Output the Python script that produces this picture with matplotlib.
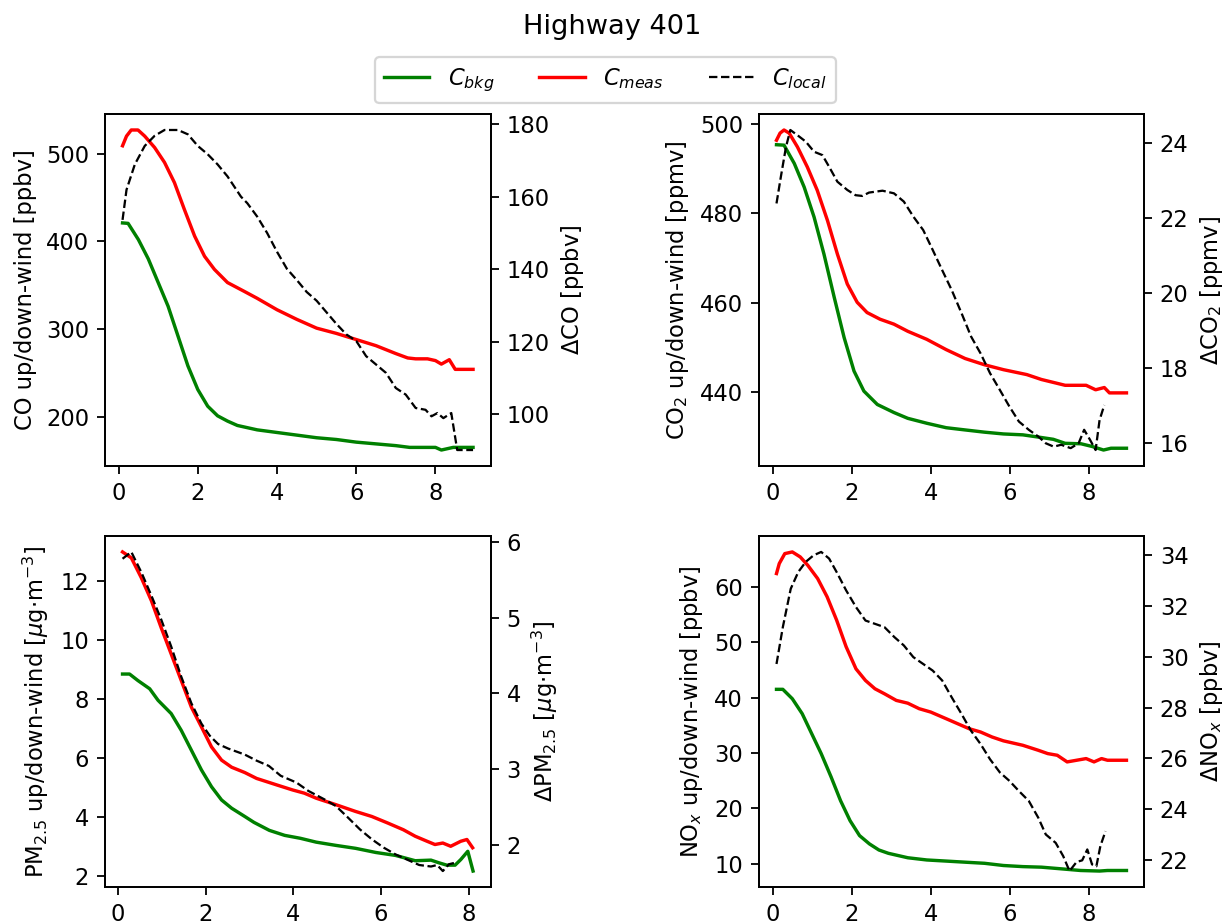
import matplotlib.pyplot as plt

# distance downwind [km] and concentrations
co_x_bkg = [0.1, 0.24, 0.5, 0.75, 1.0, 1.25, 1.5, 1.75, 2.0, 2.25, 2.5, 2.75, 3.0, 3.5, 4.0, 4.5,
            5.0, 5.5, 6.0, 6.5, 7.0, 7.35, 8.0, 8.15, 8.45, 8.95]
co_bkg = [421, 420.5, 402, 380, 353, 326, 292, 258, 231, 212, 201, 195, 190, 185, 182, 179,
          176, 174, 171, 169, 167, 165, 165, 162, 165, 165]
co_x_meas = [0.1, 0.2, 0.32, 0.49, 0.66, 0.91, 1.16, 1.41, 1.66, 1.92, 2.17, 2.42, 2.75, 3.17,
             3.5, 4.0, 4.5, 5.0, 5.5, 6.0, 6.5, 7.0, 7.3, 7.5, 7.8, 8.0, 8.15, 8.35, 8.5, 8.95]
co_meas = [509, 520, 527, 527, 520, 507, 490, 467, 436.5, 406, 383, 368, 353, 343, 335, 322,
           311, 301, 295, 288, 281, 272, 267, 266, 266, 264, 260, 265, 254, 254]
co_x_local = [0.1, 0.2, 0.41, 0.66, 0.91, 1.16, 1.5, 1.75, 2.0, 2.25, 2.5, 2.75, 3.09, 3.25,
              3.5, 3.75, 4.0, 4.25, 4.5, 4.75, 5.0, 5.25, 5.5, 5.75, 6.0, 6.25, 6.5, 6.75,
              7.0, 7.25, 7.5, 7.75, 7.9, 8.05, 8.2, 8.4, 8.55, 8.95]
co_local = [153.6, 161.9, 168.9, 174, 176.8, 178.4, 178.4, 177.2, 174, 171.7, 168.9, 165.6,
            160, 158.2, 154.5, 150, 144.8, 140.1, 137, 133.7, 131.3, 128.1, 124.9, 122, 120.2,
            116, 113.7, 111.4, 107.2, 105.4, 101.7, 101.2, 99.4, 100.3, 98.9, 100.3, 90.1, 90.1]

co2_x_bkg = [0.1, 0.29, 0.55, 0.8, 1.05, 1.3, 1.56, 1.81, 2.06, 2.31, 2.65, 3.07, 3.42, 3.9,
             4.39, 4.87, 5.36, 5.84, 6.33, 6.8, 7.1, 7.4, 7.8, 8.08, 8.37, 8.56, 8.95]
co2_bkg = [495.4, 495.3, 491.2, 485.9, 479.2, 470.9, 461.2, 452.2, 444.7, 440.2, 437.2, 435.4,
           434.1, 433.0, 432.0, 431.5, 431.0, 430.6, 430.4, 429.8, 429.4, 428.5, 428.4, 427.8,
           427.0, 427.4, 427.4]
co2_x_meas = [0.1, 0.19, 0.29, 0.42, 0.63, 0.88, 1.13, 1.39, 1.64, 1.89, 2.14, 2.39, 2.72,
              3.07, 3.42, 3.9, 4.39, 4.87, 5.36, 5.84, 6.43, 6.8, 7.4, 7.93, 8.17, 8.39, 8.52,
              8.95]
co2_meas = [496.4, 498.0, 498.7, 498.0, 494.9, 490.4, 485.2, 478.4, 470.9, 464.2, 460.1, 457.8,
            456.3, 455.2, 453.6, 451.8, 449.5, 447.5, 446.1, 445.0, 443.9, 442.8, 441.5, 441.5,
            440.5, 441.0, 439.8, 439.8]
co2_x_local = [0.1, 0.21, 0.34, 0.45, 0.63, 0.84, 1.05, 1.26, 1.43, 1.64, 1.89, 2.1, 2.27, 2.44,
               2.78, 3.07, 3.32, 3.56, 3.81, 4.05, 4.29, 4.53, 4.78, 5.02, 5.26, 5.5, 5.75,
               5.99, 6.23, 6.48, 6.72, 6.91, 7.11, 7.3, 7.54, 7.74, 7.88, 8.03, 8.17, 8.27,
               8.39]
co2_local = [22.38, 23.09, 23.89, 24.34, 24.2, 24.03, 23.76, 23.67, 23.36, 22.96, 22.74, 22.6,
             22.58, 22.67, 22.72, 22.65, 22.43, 22.03, 21.67, 21.14, 20.6, 20.07, 19.45, 18.83,
             18.38, 17.85, 17.4, 16.96, 16.56, 16.34, 16.16, 15.98, 15.89, 15.94, 15.85, 15.98,
             16.34, 16.07, 15.8, 16.6, 17.0]

pm_x_bkg = [0.1, 0.26, 0.45, 0.72, 0.91, 1.21, 1.44, 1.67, 1.9, 2.13, 2.36, 2.59, 2.89, 3.1,
            3.45, 3.8, 4.16, 4.52, 4.97, 5.42, 5.88, 6.33, 6.78, 7.14, 7.32, 7.5, 7.69, 7.82,
            7.98, 8.1]
pm_bkg = [8.85, 8.85, 8.63, 8.35, 7.96, 7.51, 6.94, 6.27, 5.6, 5.03, 4.58, 4.3, 4.02, 3.82,
          3.55, 3.38, 3.28, 3.15, 3.04, 2.94, 2.8, 2.7, 2.52, 2.54, 2.45, 2.37, 2.37, 2.56,
          2.84, 2.17]
pm_x_meas = [0.1, 0.3, 0.53, 0.76, 0.98, 1.21, 1.44, 1.67, 1.9, 2.13, 2.36, 2.59, 2.89, 3.16,
             3.62, 3.98, 4.25, 4.52, 4.97, 5.42, 5.79, 6.15, 6.51, 6.78, 7.05, 7.23, 7.41,
             7.59, 7.82, 7.96, 8.09]
pm_meas = [12.99, 12.79, 12.11, 11.33, 10.43, 9.53, 8.63, 7.73, 7.06, 6.38, 5.93, 5.69, 5.51,
           5.31, 5.09, 4.92, 4.81, 4.64, 4.42, 4.19, 4.02, 3.8, 3.57, 3.35, 3.18, 3.07, 3.12,
           3.01, 3.18, 3.24, 2.96]
pm_x_local = [0.1, 0.3, 0.53, 0.76, 0.98, 1.21, 1.44, 1.67, 1.9, 2.09, 2.28, 2.51, 2.89, 3.16,
              3.44, 3.71, 4.07, 4.34, 4.7, 4.97, 5.24, 5.52, 5.79, 6.06, 6.33, 6.6, 6.87, 7.14,
              7.28, 7.41, 7.55, 7.69]
pm_local = [5.78, 5.87, 5.6, 5.29, 4.98, 4.62, 4.22, 3.87, 3.6, 3.44, 3.33, 3.27, 3.19, 3.11,
            3.04, 2.91, 2.82, 2.71, 2.6, 2.51, 2.36, 2.2, 2.07, 1.96, 1.87, 1.8, 1.73, 1.71,
            1.73, 1.65, 1.74, 1.76]

nox_x_bkg = [0.1, 0.26, 0.5, 0.75, 0.99, 1.23, 1.48, 1.72, 1.96, 2.2, 2.45, 2.69, 2.93, 3.42,
             3.9, 4.39, 4.87, 5.36, 5.84, 6.33, 6.8, 7.3, 7.79, 8.27, 8.47, 8.95]
nox_bkg = [41.5, 41.5, 39.8, 37.1, 33.5, 29.9, 25.7, 21.4, 17.8, 15.1, 13.6, 12.5, 11.9, 11.1,
           10.7, 10.5, 10.3, 10.1, 9.7, 9.5, 9.4, 9.1, 8.8, 8.7, 8.8, 8.8]
nox_x_meas = [0.1, 0.17, 0.31, 0.5, 0.7, 0.89, 1.14, 1.38, 1.62, 1.86, 2.11, 2.35, 2.59, 2.83,
              3.13, 3.42, 3.71, 4.0, 4.39, 4.68, 4.97, 5.26, 5.55, 5.84, 6.33, 6.72, 6.96,
              7.2, 7.45, 7.69, 7.93, 8.13, 8.32, 8.47, 8.95]
nox_meas = [62.4, 64.2, 66.0, 66.3, 65.4, 63.9, 61.5, 58.2, 54.0, 49.2, 45.2, 43.1, 41.6, 40.7,
            39.5, 39.0, 38.0, 37.4, 36.2, 35.3, 34.4, 33.8, 32.9, 32.2, 31.4, 30.5, 29.9, 29.6,
            28.4, 28.7, 29.0, 28.4, 29.0, 28.7, 28.7]
nox_x_local = [0.1, 0.26, 0.46, 0.65, 0.84, 1.04, 1.23, 1.43, 1.62, 1.86, 2.11, 2.35, 2.59,
               2.83, 3.08, 3.32, 3.56, 3.81, 4.05, 4.29, 4.53, 4.78, 5.02, 5.26, 5.5, 5.75,
               5.99, 6.23, 6.48, 6.72, 6.91, 7.16, 7.35, 7.51, 7.69, 7.83, 7.96, 8.08, 8.19,
               8.29, 8.42]
nox_local = [29.72, 31.17, 32.68, 33.34, 33.74, 34.0, 34.13, 33.87, 33.34, 32.62, 31.96, 31.43,
             31.3, 31.17, 30.78, 30.45, 29.99, 29.72, 29.46, 29.07, 28.41, 27.75, 27.09, 26.57,
             25.97, 25.45, 25.12, 24.72, 24.33, 23.67, 23.01, 22.68, 22.16, 21.57, 21.93,
             21.99, 22.42, 21.83, 21.76, 22.55, 23.14]

panels = [
    ([0.0858, 0.4951, 0.3150, 0.3814], co_x_bkg, co_bkg, co_x_meas, co_meas, co_x_local, co_local,
     'CO up/down-wind [ppbv]', r'$\Delta$CO [ppbv]', [200, 300, 400, 500], [100, 120, 140, 160, 180]),
    ([0.6201, 0.4951, 0.3145, 0.3814], co2_x_bkg, co2_bkg, co2_x_meas, co2_meas, co2_x_local, co2_local,
     r'CO$_2$ up/down-wind [ppmv]', r'$\Delta$CO$_2$ [ppmv]', [440, 460, 480, 500], [16, 18, 20, 22, 24]),
    ([0.0858, 0.0390, 0.3150, 0.3803], pm_x_bkg, pm_bkg, pm_x_meas, pm_meas, pm_x_local, pm_local,
     r'PM$_{2.5}$ up/down-wind [$\mu$g$\cdot$m$^{-3}$]', r'$\Delta$PM$_{2.5}$ [$\mu$g$\cdot$m$^{-3}$]',
     [2, 4, 6, 8, 10, 12], [2, 3, 4, 5, 6]),
    ([0.6201, 0.0390, 0.3145, 0.3803], nox_x_bkg, nox_bkg, nox_x_meas, nox_meas, nox_x_local, nox_local,
     r'NO$_x$ up/down-wind [ppbv]', r'$\Delta$NO$_x$ [ppbv]', [10, 20, 30, 40, 50, 60],
     [22, 24, 26, 28, 30, 32, 34]),
]

fig = plt.figure(figsize=(7.5, 923 / 163.2), dpi=163.2)
for pos, xb, yb, xm, ym, xl, yl, lab1, lab2, ticks1, ticks2 in panels:
    ax = fig.add_axes(pos)
    l1, = ax.plot(xb, yb, color='g', lw=1.5, label=r'$C_{bkg}$')
    l2, = ax.plot(xm, ym, color='r', lw=1.5, label=r'$C_{meas}$')
    ax.set_ylabel(lab1)
    ax.set_yticks(ticks1)
    ax.set_xticks([0, 2, 4, 6, 8])
    ax2 = ax.twinx()
    l3, = ax2.plot(xl, yl, 'k--', lw=1.0, label=r'$C_{local}$')
    ax2.set_ylabel(lab2)
    ax2.set_yticks(ticks2)

fig.legend([l1, l2, l3], [r'$C_{bkg}$', r'$C_{meas}$', r'$C_{local}$'], loc='upper center',
           bbox_to_anchor=(0.4947, 0.938), borderaxespad=0, ncol=3)
fig.suptitle('Highway 401', y=0.985)
fig.savefig('out.png', dpi=163.2)
